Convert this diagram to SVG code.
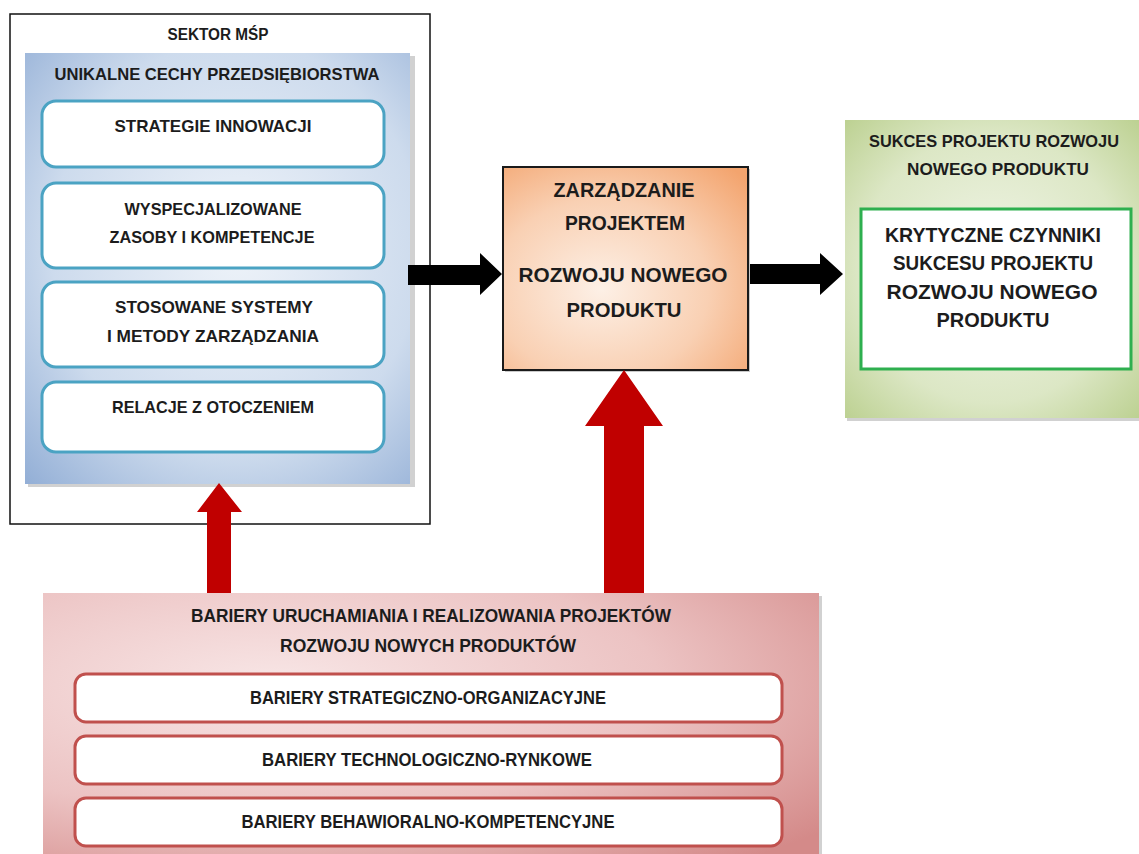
<svg xmlns="http://www.w3.org/2000/svg" width="1139" height="854" viewBox="0 0 1139 854">
<defs>
<radialGradient id="gBlue" cx="0.55" cy="0.45" r="0.8">
<stop offset="0" stop-color="#eef3f9"/>
<stop offset="0.6" stop-color="#cddbed"/>
<stop offset="1" stop-color="#8eabd4"/>
</radialGradient>
<radialGradient id="gOrange" cx="0.4" cy="0.6" r="0.8">
<stop offset="0" stop-color="#fdf0e6"/>
<stop offset="0.55" stop-color="#f9d0b3"/>
<stop offset="1" stop-color="#f3a46e"/>
</radialGradient>
<radialGradient id="gGreen" cx="0.5" cy="0.5" r="0.75">
<stop offset="0" stop-color="#f1f5e8"/>
<stop offset="0.6" stop-color="#dce7c5"/>
<stop offset="1" stop-color="#b7cd89"/>
</radialGradient>
<radialGradient id="gRed" cx="0.3" cy="0.35" r="0.9">
<stop offset="0" stop-color="#f8e6e6"/>
<stop offset="0.55" stop-color="#ecc3c3"/>
<stop offset="1" stop-color="#d48a89"/>
</radialGradient>
<style>
.t{font-family:"Liberation Sans",Arial,sans-serif;font-weight:bold;fill:#1c1c1c;text-anchor:middle}
.bbox{fill:#fff;stroke:#4ba3c3;stroke-width:3}
.rbox{fill:#fff;stroke:#c0504d;stroke-width:3}
.shadow{fill:#9a9a9a;opacity:0.45}
.red{fill:#c00000}
.blk{fill:#000}
</style>
</defs>
<rect width="1139" height="854" fill="#fff"/>

<g id="sektor">
<rect x="10" y="14" width="420" height="510" fill="#fff" stroke="#111" stroke-width="1.5"/>
<text class="t" x="218" y="40" font-size="16" textLength="101" lengthAdjust="spacingAndGlyphs">SEKTOR MŚP</text>
</g>

<g id="unikalne">
<rect class="shadow" x="28" y="56" width="387" height="431"/>
<rect x="25" y="53" width="385" height="431" fill="url(#gBlue)"/>
<text class="t" x="217" y="80" font-size="17" textLength="325" lengthAdjust="spacingAndGlyphs">UNIKALNE CECHY PRZEDSIĘBIORSTWA</text>
</g>

<g id="strategie">
<rect class="bbox" x="42" y="101" width="342" height="66" rx="14"/>
<text class="t" x="213" y="132" font-size="17" textLength="197" lengthAdjust="spacingAndGlyphs">STRATEGIE INNOWACJI</text>
</g>

<g id="zasoby">
<rect class="bbox" x="42" y="183" width="342" height="85" rx="14"/>
<text class="t" x="213" y="215" font-size="17" textLength="177" lengthAdjust="spacingAndGlyphs">WYSPECJALIZOWANE</text>
<text class="t" x="212" y="243" font-size="17" textLength="205" lengthAdjust="spacingAndGlyphs">ZASOBY I KOMPETENCJE</text>
</g>

<g id="systemy">
<rect class="bbox" x="42" y="282" width="342" height="85" rx="14"/>
<text class="t" x="214" y="313" font-size="17" textLength="198" lengthAdjust="spacingAndGlyphs">STOSOWANE  SYSTEMY</text>
<text class="t" x="213" y="342" font-size="17" textLength="212" lengthAdjust="spacingAndGlyphs">I METODY ZARZĄDZANIA</text>
</g>

<g id="relacje">
<rect class="bbox" x="42" y="382" width="342" height="70" rx="14"/>
<text class="t" x="213" y="413" font-size="17" textLength="202" lengthAdjust="spacingAndGlyphs">RELACJE Z OTOCZENIEM</text>
</g>

<g id="zarzadzanie">
<rect x="505" y="169" width="245" height="203" fill="#666" opacity="0.35"/>
<rect x="503" y="167" width="245" height="203" fill="url(#gOrange)" stroke="#1a1a1a" stroke-width="2"/>
<text class="t" x="624" y="197" font-size="20" textLength="141" lengthAdjust="spacingAndGlyphs">ZARZĄDZANIE</text>
<text class="t" x="625" y="230" font-size="20" textLength="120" lengthAdjust="spacingAndGlyphs">PROJEKTEM</text>
<text class="t" x="623" y="282" font-size="20" textLength="209" lengthAdjust="spacingAndGlyphs">ROZWOJU NOWEGO</text>
<text class="t" x="624" y="317" font-size="20" textLength="115" lengthAdjust="spacingAndGlyphs">PRODUKTU</text>
</g>

<g id="sukces">
<rect class="shadow" x="847" y="122" width="292" height="299"/>
<rect x="845" y="120" width="294" height="298" fill="url(#gGreen)"/>
<text class="t" x="994" y="147" font-size="17" textLength="250" lengthAdjust="spacingAndGlyphs">SUKCES PROJEKTU ROZWOJU</text>
<text class="t" x="998" y="175" font-size="17" textLength="182" lengthAdjust="spacingAndGlyphs">NOWEGO PRODUKTU</text>
</g>

<g id="czynniki">
<rect x="861" y="209" width="270" height="160" fill="#fff" stroke="#2eaf4f" stroke-width="3"/>
<text class="t" x="993" y="242" font-size="20" textLength="216" lengthAdjust="spacingAndGlyphs">KRYTYCZNE CZYNNIKI</text>
<text class="t" x="993" y="270" font-size="20" textLength="200" lengthAdjust="spacingAndGlyphs">SUKCESU PROJEKTU</text>
<text class="t" x="992" y="299" font-size="20" textLength="211" lengthAdjust="spacingAndGlyphs">ROZWOJU NOWEGO</text>
<text class="t" x="993" y="327" font-size="20" textLength="113" lengthAdjust="spacingAndGlyphs">PRODUKTU</text>
</g>

<g id="bariery">
<rect class="shadow" x="46" y="596" width="776" height="260"/>
<rect x="43" y="593" width="776" height="262" fill="url(#gRed)"/>
<text class="t" x="431" y="622" font-size="18" textLength="480" lengthAdjust="spacingAndGlyphs">BARIERY URUCHAMIANIA I REALIZOWANIA PROJEKTÓW</text>
<text class="t" x="428" y="652" font-size="18" textLength="296" lengthAdjust="spacingAndGlyphs">ROZWOJU NOWYCH PRODUKTÓW</text>
</g>

<g id="b-strategiczne">
<rect class="rbox" x="75" y="674" width="707" height="48" rx="11"/>
<text class="t" x="428" y="704" font-size="18" textLength="356" lengthAdjust="spacingAndGlyphs">BARIERY STRATEGICZNO-ORGANIZACYJNE</text>
</g>
<g id="b-technologiczne">
<rect class="rbox" x="75" y="736" width="707" height="48" rx="11"/>
<text class="t" x="427" y="766" font-size="18" textLength="330" lengthAdjust="spacingAndGlyphs">BARIERY TECHNOLOGICZNO-RYNKOWE</text>
</g>
<g id="b-behawioralne">
<rect class="rbox" x="75" y="798" width="707" height="48" rx="11"/>
<text class="t" x="428" y="828" font-size="18" textLength="373" lengthAdjust="spacingAndGlyphs">BARIERY BEHAWIORALNO-KOMPETENCYJNE</text>
</g>

<g id="connectors">
<polygon class="blk" points="408,265 480,265 480,253 502,274 480,295 480,285 408,285"/>
<polygon class="blk" points="750,264 820,264 820,253 843,274 820,295 820,284 750,284"/>
<polygon class="red" points="207,593 207,512 197,512 219,483 242,512 231,512 231,593"/>
<polygon class="red" points="604,593 604,426 585,426 624,370 663,426 644,426 644,593"/>
</g>
</svg>
